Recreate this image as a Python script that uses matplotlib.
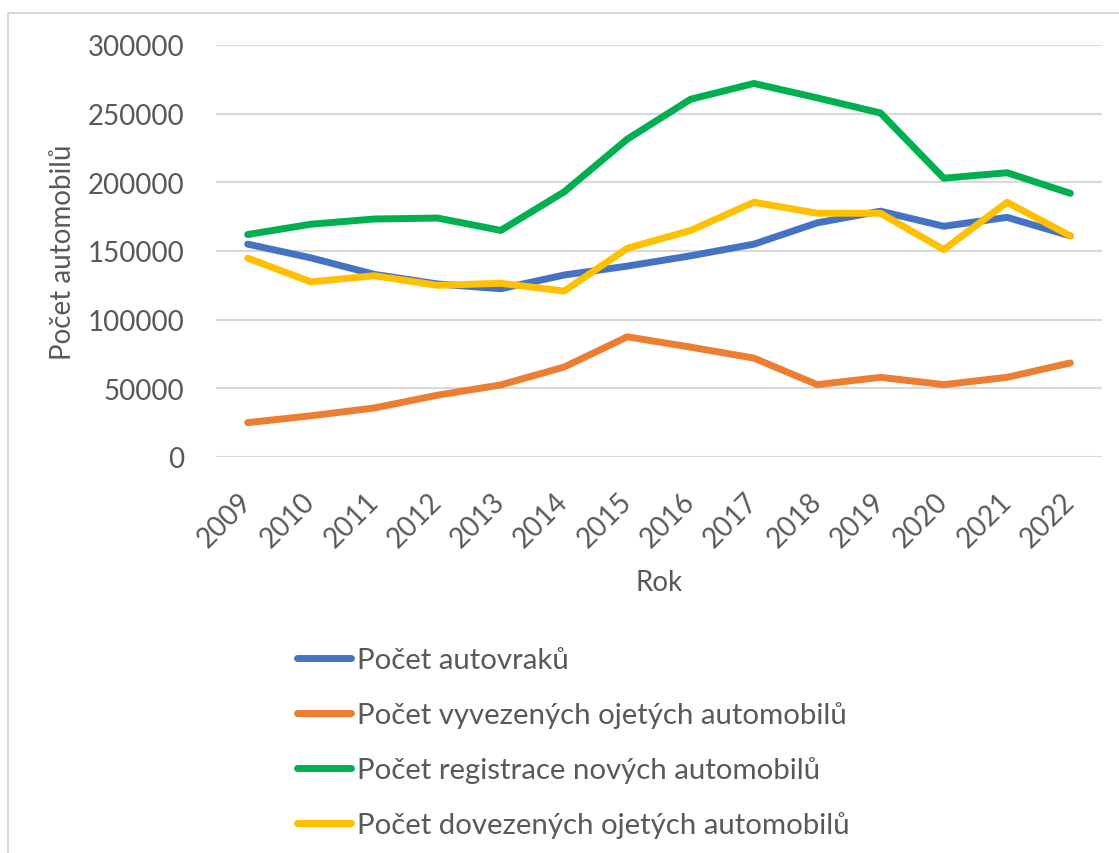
import matplotlib
matplotlib.use('Agg')
import matplotlib.pyplot as plt
from matplotlib.patches import Rectangle

# Data
years = ['2009', '2010', '2011', '2012', '2013', '2014', '2015',
         '2016', '2017', '2018', '2019', '2020', '2021', '2022']
autovraky = [155000, 145000, 133000, 126000, 122500, 132500, 139000,
             146500, 155000, 170500, 179000, 168000, 174500, 161000]
vyvezene = [25000, 30000, 35700, 45000, 52500, 65500, 87500,
            80000, 72000, 52700, 58000, 52700, 58000, 68500]
registrace = [162000, 169500, 173300, 174000, 165000, 193000, 231500,
              260500, 272000, 261500, 250500, 203000, 207000, 192000]
dovezene = [144800, 127500, 132000, 125000, 126500, 120800, 152000,
            165000, 185500, 177500, 177500, 151000, 185500, 161000]

labels = ['Počet autovraků',
          'Počet vyvezených ojetých automobilů',
          'Počet registrace nových automobilů',
          'Počet dovezených ojetých automobilů']
colors = ['#4472C4', '#ED7D31', '#00B050', '#FFC000']

plt.rcParams['font.family'] = ['Lato', 'DejaVu Sans']
text_color = '#595959'

fig = plt.figure(figsize=(11.19, 8.54), dpi=100)
W, H = 1119, 854
ax = fig.add_axes([216 / W, 1 - 458 / H, (1102 - 216) / W, (458 - 46) / H])

x = range(len(years))
for vals, lab, col in zip([autovraky, vyvezene, registrace, dovezene], labels, colors):
    ax.plot(x, vals, color=col, lw=5, label=lab, solid_capstyle='round',
            solid_joinstyle='round')

ax.set_xlim(-0.5, len(years) - 0.5)
ax.set_ylim(0, 300000)
ax.set_yticks(range(0, 300001, 50000))
ax.set_xticks(list(x))
ax.set_xticklabels(years, rotation=45, ha='right', va='center',
                   rotation_mode='anchor')
ax.grid(axis='y', color='#D9D9D9', lw=1.5)
ax.set_axisbelow(True)
for s in ax.spines.values():
    s.set_visible(False)
ax.tick_params(axis='y', length=0, pad=23, labelsize=20, labelcolor=text_color)
ax.tick_params(axis='x', length=0, pad=29, labelsize=20, labelcolor=text_color)

ax.set_ylabel('Počet automobilů', fontsize=20, color=text_color, labelpad=8)
ax.set_xlabel('Rok', fontsize=20, color=text_color, labelpad=12)

fig.legend(loc='upper left', bbox_to_anchor=(297 / W, 1 - 648 / H),
           frameon=False, fontsize=21.2, labelcolor=text_color,
           handlelength=1.85, handletextpad=0.2, labelspacing=0.95,
           borderpad=0, borderaxespad=0)

# light chart-area border, cut off at right and bottom like the reference
fig.patches.append(Rectangle((8 / W, -0.1), 1.2, 1 - 14 / H + 0.1,
                             transform=fig.transFigure, fill=False,
                             edgecolor='#D9D9D9', lw=1.5))

fig.savefig('out.png', dpi=100)
